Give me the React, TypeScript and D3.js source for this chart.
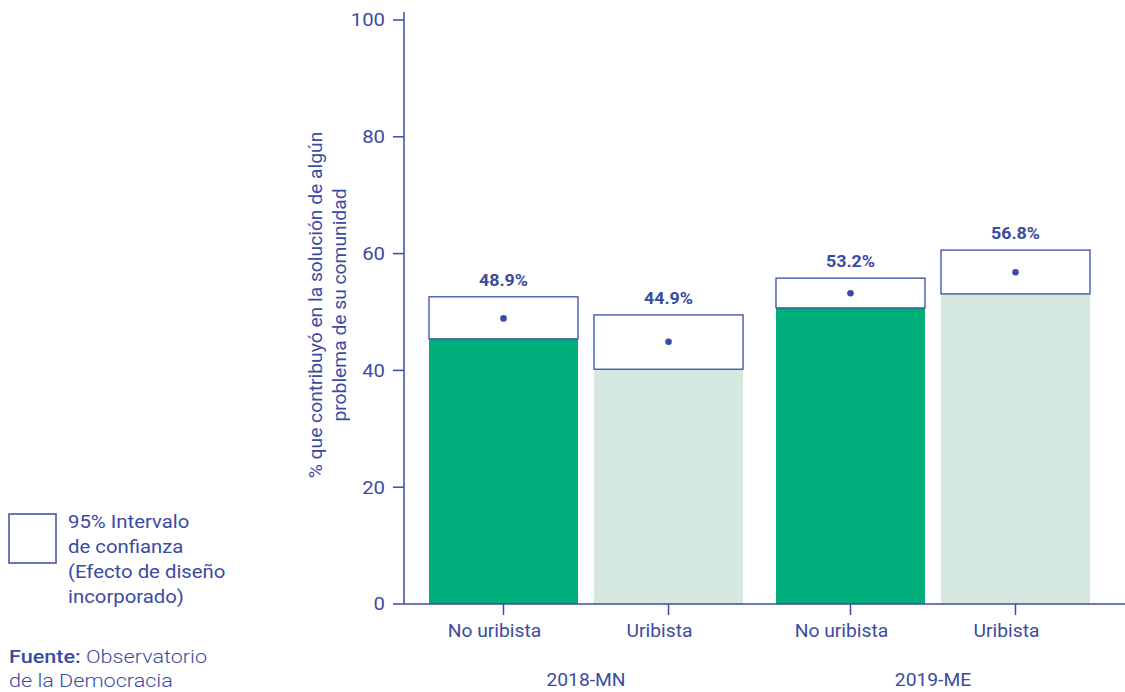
import React from "react";
import * as d3 from "d3";

const groups = ["2018-MN", "2019-ME"];
const categories = ["No uribista", "Uribista", "No uribista", "Uribista"];
const categoryGroup = [0, 0, 1, 1];
const estimates = [48.9, 44.9, 53.2, 56.8];
const lowerCI = [45.4, 40.2, 50.7, 53.1];
const upperCI = [52.6, 49.5, 55.8, 60.6];
const yTicks = [0, 20, 40, 60, 80, 100];
const legendLines = ["95% Intervalo", "de confianza", "(Efecto de diseño", "incorporado)"];
const yLabelLines = ["% que contribuyó en la solución de algún", "problema de su comunidad"];

const BLUE = "#3B4BA3";
const GREEN = "#00AE7B";
const LIGHT = "#D4E8DF";
const FONT = "Roboto, 'Noto Sans', sans-serif";
const SX = 1.13;

type TProps = {
  x: number;
  y: number;
  size: number;
  anchor?: "start" | "middle" | "end";
  weight?: number;
  sx?: number;
  rotate?: number;
  children: React.ReactNode;
};

function T({ x, y, size, anchor = "start", weight = 400, sx = SX, rotate = 0, children }: TProps) {
  return (
    <text
      transform={`translate(${x},${y}) rotate(${rotate}) scale(${sx},1)`}
      textAnchor={anchor}
      dy="0.35em"
      fontSize={size}
      fontWeight={weight}
      fill={BLUE}
    >
      {children}
    </text>
  );
}

export default function App() {
  const width = 1125;
  const height = 692;
  const x0 = 404;
  const x1 = 1125;
  const y = d3.scaleLinear().domain([0, 100]).range([604, 20]);
  const outer = d3.scaleBand<number>().domain([0, 1]).range([429, 1090]).paddingInner(0.095).paddingOuter(0);
  const inner = d3.scaleBand<number>().domain([0, 1]).range([0, outer.bandwidth()]).paddingInner(0.097).paddingOuter(0);
  const barX = (i: number) => (outer(categoryGroup[i]) as number) + (inner(i % 2) as number);
  const bw = inner.bandwidth();

  return (
    <svg width={width} height={height} style={{ position: "absolute", left: 0, top: 0, fontFamily: FONT }}>
      <rect width={width} height={height} fill="#fff" />
      {estimates.map((v, i) => {
        const bx = barX(i);
        return (
          <g key={i}>
            <rect x={bx} y={y(lowerCI[i])} width={bw} height={y(0) - y(lowerCI[i])} fill={i % 2 === 0 ? GREEN : LIGHT} />
            <rect x={bx} y={y(upperCI[i])} width={bw} height={y(lowerCI[i]) - y(upperCI[i])} fill="#fff" stroke={BLUE} strokeWidth={1.3} />
            <circle cx={bx + bw / 2} cy={y(v)} r={3.3} fill={BLUE} />
            <T x={bx + bw / 2} y={y(upperCI[i]) - 17} size={17} weight={700} anchor="middle" sx={1.05}>
              {v.toFixed(1)}%
            </T>
          </g>
        );
      })}
      <line x1={x0} x2={x0} y1={y(100) - 8} y2={y(0)} stroke={BLUE} strokeWidth={1.5} />
      {yTicks.map((t) => (
        <g key={t}>
          <line x1={x0 - 11} x2={x0} y1={y(t)} y2={y(t)} stroke={BLUE} strokeWidth={1.5} />
          <T x={x0 - 19} y={y(t)} size={18} anchor="end">
            {t}
          </T>
        </g>
      ))}
      <line x1={x0} x2={x1} y1={y(0)} y2={y(0)} stroke={BLUE} strokeWidth={1.5} />
      {categories.map((c, i) => {
        const cx = barX(i) + bw / 2;
        return (
          <g key={i}>
            <line x1={cx} x2={cx} y1={y(0)} y2={y(0) + 11} stroke={BLUE} strokeWidth={1.5} />
            <T x={cx - 9} y={631} size={17.5} anchor="middle" sx={1.1}>
              {c}
            </T>
          </g>
        );
      })}
      {groups.map((g, gi) => {
        const cx = (outer(gi) as number) + outer.bandwidth() / 2;
        return (
          <T key={g} x={cx} y={680} size={17.5} anchor="middle" sx={1.1}>
            {g}
          </T>
        );
      })}
      {yLabelLines.map((l, i) => (
        <T key={i} x={316 + i * 24} y={y(50) - 7} size={18} anchor="middle" rotate={-90} sx={1.07}>
          {l}
        </T>
      ))}
      <rect x={9} y={514} width={47} height={49} fill="#fff" stroke={BLUE} strokeWidth={1.5} />
      {legendLines.map((l, i) => (
        <T key={i} x={68} y={522 + i * 25} size={18}>
          {l}
        </T>
      ))}
      <text transform={`translate(9,657) scale(1.2,1)`} dy="0.35em" fontSize={18} fill={BLUE}>
        <tspan fontWeight={500}>Fuente:</tspan>
        <tspan fontWeight={300}> Observatorio</tspan>
      </text>
      <T x={9} y={681} size={18} weight={300} sx={1.2}>
        de la Democracia
      </T>
    </svg>
  );
}
